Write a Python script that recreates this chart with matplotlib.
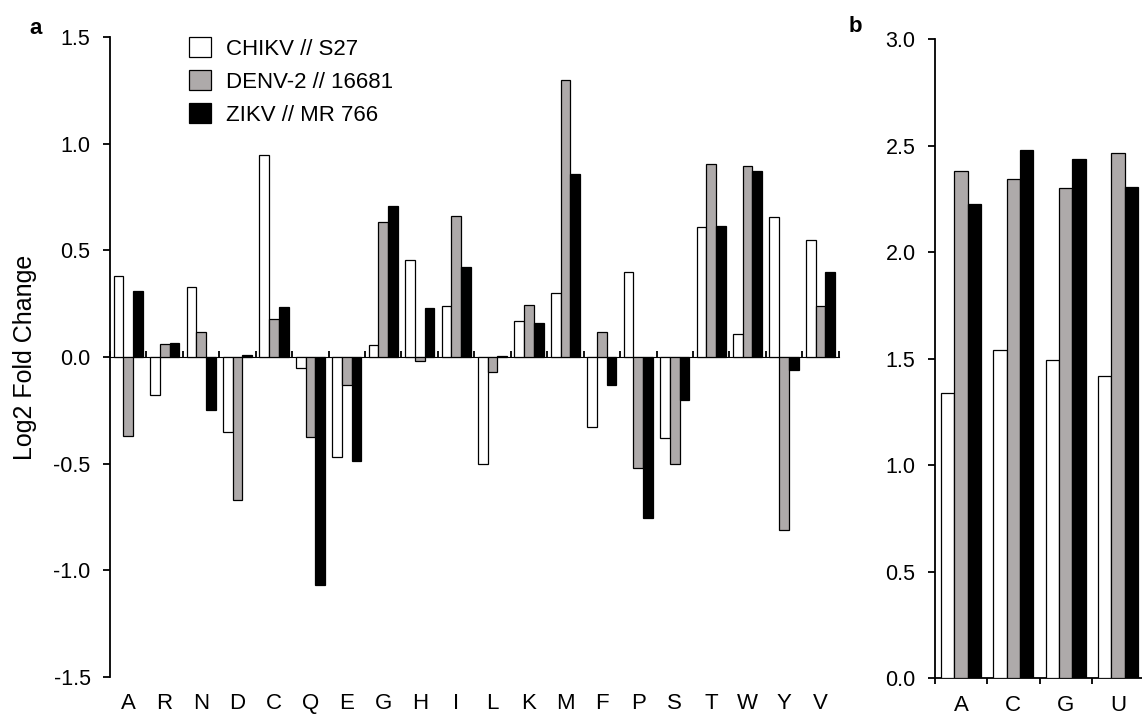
import matplotlib
matplotlib.use('Agg')
import matplotlib.pyplot as plt
import numpy as np

plt.rcParams['font.family'] = ['Liberation Sans', 'DejaVu Sans']
plt.rcParams['axes.unicode_minus'] = False

# amino acid usage, log2 fold change
aminoAcids = ['A', 'R', 'N', 'D', 'C', 'Q', 'E', 'G', 'H', 'I',
              'L', 'K', 'M', 'F', 'P', 'S', 'T', 'W', 'Y', 'V']
chikvAA = [0.38, -0.18, 0.33, -0.35, 0.95, -0.05, -0.47, 0.055, 0.455, 0.24,
           -0.50, 0.17, 0.30, -0.33, 0.40, -0.38, 0.61, 0.11, 0.655, 0.55]
denvAA = [-0.37, 0.06, 0.117, -0.67, 0.177, -0.375, -0.13, 0.635, -0.02, 0.66,
          -0.07, 0.245, 1.30, 0.115, -0.52, -0.50, 0.905, 0.895, -0.81, 0.24]
zikvAA = [0.31, 0.067, -0.25, 0.008, 0.235, -1.07, -0.49, 0.71, 0.23, 0.42,
          0.005, 0.16, 0.857, -0.13, -0.755, -0.20, 0.615, 0.873, -0.06, 0.40]

# nucleotides
nucleotides = ['A', 'C', 'G', 'U']
chikvNT = [1.34, 1.54, 1.495, 1.42]
denvNT = [2.383, 2.346, 2.30, 2.465]
zikvNT = [2.227, 2.482, 2.437, 2.305]

seriesNames = ['CHIKV // S27', 'DENV-2 // 16681', 'ZIKV // MR 766']
fills = ['white', '#aeaaaa', 'black']

W, H = 1142, 716
fig = plt.figure(figsize=(W / 100, H / 100), dpi=100)


def groupedBars(ax, labels, series, groupWidth):
  x = np.arange(len(labels))
  w = groupWidth / len(series)
  bars = []
  for k, vals in enumerate(series):
    b = ax.bar(x + (k - 1) * w, vals, w, color=fills[k], edgecolor='black',
               linewidth=0.9, label=seriesNames[k], zorder=2)
    bars.append(b)
  ax.set_xlim(-0.5, len(labels) - 0.5)
  # category names sit under the axes, boundary ticks go on the baseline
  ax.set_xticks([])
  ax.set_xticks(x, labels, minor=True)
  ax.tick_params(axis='x', which='minor', length=0, labelsize=16, pad=11.5)
  for s in ['top', 'right', 'bottom']:
    ax.spines[s].set_visible(False)
  ax.spines['left'].set_linewidth(1.3)
  ax.tick_params(axis='y', direction='out', length=5, width=1.3,
                 labelsize=15.5, pad=9)
  return bars


def baselineTicks(ax, n, loc):
  sec = ax.secondary_xaxis(loc)
  sec.set_xticks(np.arange(n + 1) - 0.5)
  sec.set_xticklabels([])
  sec.tick_params(direction='out', length=4.5, width=1.3)
  sec.spines['bottom'].set_linewidth(1.3)


# panel a
axA = fig.add_axes([110 / W, 1 - 676.7 / H, 728.7 / W, 639.4 / H])
barsA = groupedBars(axA, aminoAcids, [chikvAA, denvAA, zikvAA], 0.8)
axA.set_ylim(-1.5, 1.5)
axA.set_yticks([-1.5, -1.0, -0.5, 0.0, 0.5, 1.0, 1.5])
axA.set_yticklabels(['%.1f' % v for v in axA.get_yticks()])
baselineTicks(axA, len(aminoAcids), 0.5)
axA.set_ylabel('Log2 Fold Change', fontsize=18, labelpad=12)

fig.legend(handles=barsA, loc='upper left',
           bbox_to_anchor=(189 / W, 1 - 37 / H), frameon=False,
           fontsize=16, borderpad=0, borderaxespad=0,
           handlelength=1.0, handleheight=1.0, handletextpad=0.65,
           labelspacing=0.48)

# panel b
axB = fig.add_axes([935 / W, 1 - 678 / H, 209 / W, 638.7 / H])
groupedBars(axB, nucleotides, [chikvNT, denvNT, zikvNT], 0.765)
axB.set_ylim(0, 3.0)
axB.set_yticks([0, 0.5, 1.0, 1.5, 2.0, 2.5, 3.0])
axB.set_yticklabels(['%.1f' % v for v in axB.get_yticks()])
axB.tick_params(axis='x', which='minor', pad=12.5)
baselineTicks(axB, len(nucleotides), 0.0)

fig.text(36 / W, 1 - 28 / H, 'a', fontsize=16, fontweight='bold',
         ha='center', va='center')
fig.text(855 / W, 1 - 27 / H, 'b', fontsize=16, fontweight='bold',
         ha='center', va='center')

plt.savefig('out.png', dpi=100)
